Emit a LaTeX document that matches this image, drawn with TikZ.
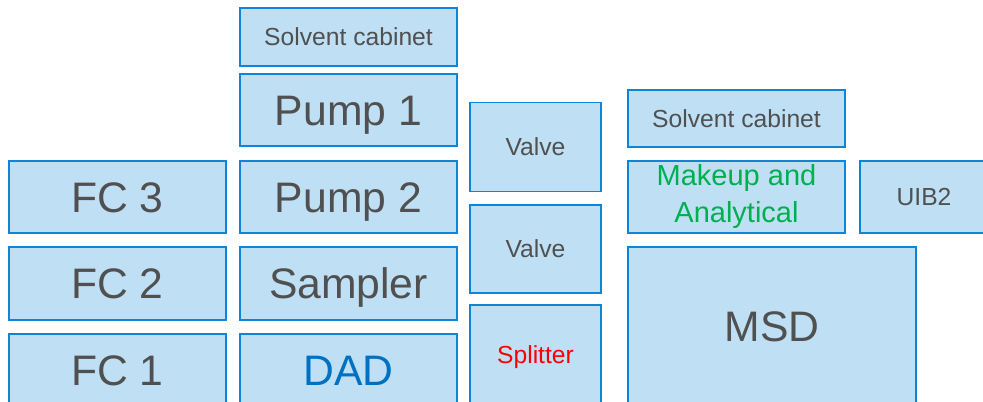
\documentclass[tikz,border=0pt]{standalone}
\usepackage{fontspec}
\setmainfont{Liberation Sans}
\usepackage{xcolor}
\definecolor{BoxFill}{HTML}{BFDFF4}
\definecolor{BoxEdge}{HTML}{0F85D8}
\definecolor{TextGray}{HTML}{505050}
\definecolor{DadBlue}{HTML}{0070C0}
\definecolor{MakeupGreen}{HTML}{00B050}

\begin{document}
\begin{tikzpicture}[
    x=0.75pt, y=-0.75pt,
    box/.style={draw=BoxEdge, fill=BoxFill, line width=1.1pt, inner sep=0pt,
                text=TextGray, align=center},
    sz/.style 2 args={minimum width=#1*0.75pt, minimum height=#2*0.75pt},
    big/.style={font=\fontsize{32}{38}\selectfont, text height=23pt, text depth=0pt},
    small/.style={font=\fontsize{18.5}{22}\selectfont, text height=13.4pt, text depth=0pt},
  ]
    \path[use as bounding box, clip] (0,0) rectangle (983,402);

    \node[box, big, sz={217}{72}] (fc3) at (117.5,197)   {FC 3};
    \node[box, big, sz={217}{73}] (fc2) at (117.5,283.5) {FC 2};
    \node[box, big, sz={217}{72}] (fc1) at (117.5,370)   {FC 1};

    \node[box, small, sz={217}{58}] (solvA)   at (348.5,37)    {Solvent cabinet};
    \node[box, big,   sz={217}{72}] (pump1)   at (348.5,110)   {Pump 1};
    \node[box, big,   sz={217}{72}] (pump2)   at (348.5,197)   {Pump 2};
    \node[box, big,   sz={217}{73}] (sampler) at (348.5,283.5) {Sampler};
    \node[box, big,   sz={217}{72}, text=DadBlue] (dad) at (348.5,370) {DAD};

    \node[box, small, sz={131}{89}]  (valveA)   at (535.5,147) {Valve};
    \node[box, small, sz={131}{88}]  (valveB)   at (535.5,249) {Valve};
    \node[box, small, sz={131}{100}, text=red] (splitter) at (535.5,355) {Splitter};

    \node[box, small, sz={217}{57}] (solvB) at (736.5,118.5) {Solvent cabinet};
    \node[box, sz={217}{72}, text=MakeupGreen,
          font=\fontsize{21.75}{27.75}\selectfont] (makeup) at (736.5,197)
      {Makeup and\\Analytical};
    \node[box, small, sz={128}{72}]  (uib)  at (924,197) {UIB2};
    \node[box, big,   sz={288}{158}] (msd)  at (772,326) {MSD};
  \end{tikzpicture}
\end{document}
